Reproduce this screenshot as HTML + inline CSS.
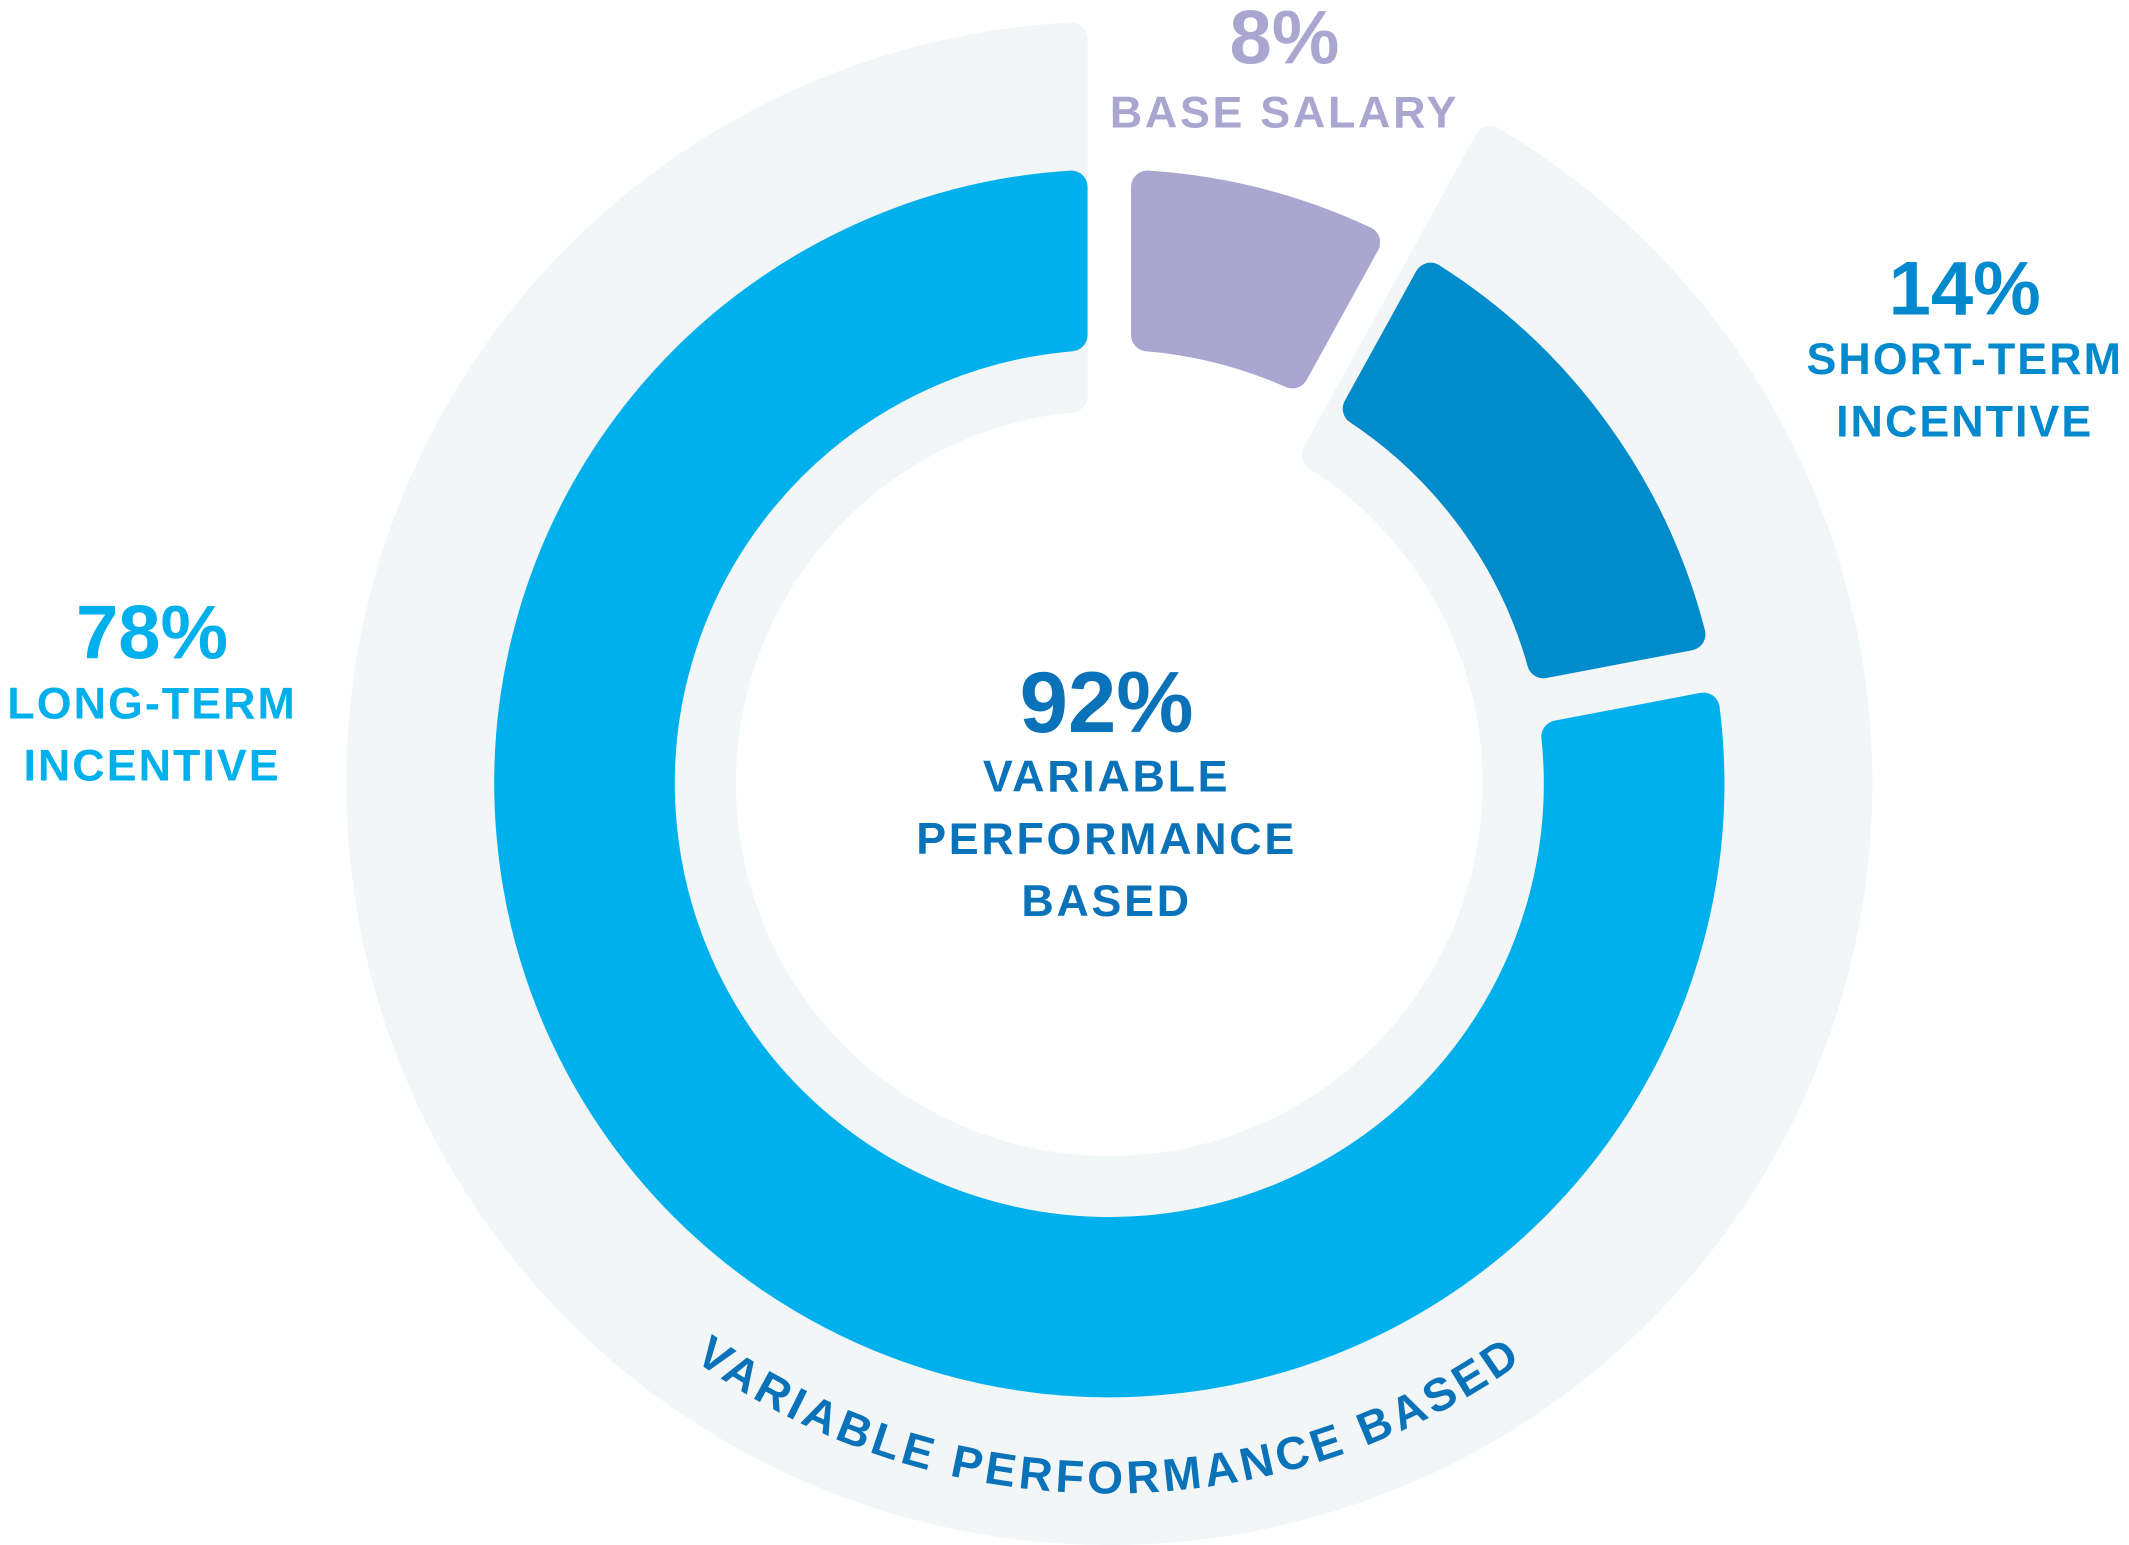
<!DOCTYPE html>
<html><head><meta charset="utf-8"><style>
html,body{margin:0;padding:0;background:#fff;}
svg{display:block;}
text{font-family:"Liberation Sans",sans-serif;font-weight:bold;text-anchor:middle;}
</style></head><body>
<svg id="chart" width="2129" height="1545" viewBox="0 0 1568 1140" preserveAspectRatio="none" xmlns="http://www.w3.org/2000/svg">
<g id="rings"></g>
<defs><path id="arcPath" d="M 0 0"/></defs>
<text font-size="34" fill="#0a72b8" letter-spacing="3"><textPath id="tp" href="#arcPath" startOffset="50%">VARIABLE PERFORMANCE BASED</textPath></text>

<g fill="#a9a7d0">
<text x="946" y="47" font-size="56">8%</text>
<text x="946" y="94" font-size="33" letter-spacing="2">BASE SALARY</text>
</g>
<g fill="#0089cc">
<text x="1447" y="232" font-size="56">14%</text>
<text x="1447" y="276" font-size="33" letter-spacing="1.5">SHORT-TERM</text>
<text x="1447" y="322" font-size="33" letter-spacing="1.5">INCENTIVE</text>
</g>
<g fill="#00b0ec">
<text x="112" y="486" font-size="56">78%</text>
<text x="112" y="530" font-size="33" letter-spacing="1.5">LONG-TERM</text>
<text x="112" y="576" font-size="33" letter-spacing="1.5">INCENTIVE</text>
</g>
<g fill="#0a72b8">
<text x="815" y="540" font-size="64">92%</text>
<text x="815" y="584" font-size="33" letter-spacing="2">VARIABLE</text>
<text x="815" y="630" font-size="33" letter-spacing="2">PERFORMANCE</text>
<text x="815" y="676" font-size="33" letter-spacing="2">BASED</text>
</g>
</svg>
<script>
const categories = ["Base Salary", "Short-Term Incentive", "Long-Term Incentive"];
const values = [8, 14, 78];
const colors = ["#a9a7d0", "#008bcb", "#00b0ec"];
const cx = 817, cy = 578;
const total = values.reduce((a,b)=>a+b,0);
function angleScale(v){ return v/total*360; }
const SW = 24, HALF = SW/2;
function pt(a,r){ const t=a*Math.PI/180; return [cx + r*Math.sin(t), cy - r*Math.cos(t)]; }
function off(d,r){ return Math.asin(d/r)*180/Math.PI; }
function sector(a0,a1,r0,r1,d0,d1){
  const s1=a0+off(d0,r1), e1=a1-off(d1,r1), s0=a0+off(d0,r0), e0=a1-off(d1,r0);
  const large1 = (e1-s1)>180?1:0, large0=(e0-s0)>180?1:0;
  const p1=pt(s1,r1),p2=pt(e1,r1),p3=pt(e0,r0),p4=pt(s0,r0);
  return `M${p1[0]},${p1[1]} A${r1},${r1} 0 ${large1} 1 ${p2[0]},${p2[1]} L${p3[0]},${p3[1]} A${r0},${r0} 0 ${large0} 0 ${p4[0]},${p4[1]} Z`;
}
const g = document.getElementById('rings');
const NS = "http://www.w3.org/2000/svg";
const varStart = angleScale(values[0]);
const bg = document.createElementNS(NS,'path');
bg.setAttribute('d', sector(varStart, 360, 275+HALF, 562-HALF, 6+HALF, 16+HALF));
bg.setAttribute('fill','#f2f6f7');
bg.setAttribute('stroke','#f2f6f7');
bg.setAttribute('stroke-width',SW);
bg.setAttribute('stroke-linejoin','round');


g.appendChild(bg);
let a = 0;
values.forEach((v,i)=>{
  const a1 = a + angleScale(v);
  const p = document.createElementNS(NS,'path');
  p.setAttribute('d', sector(a, a1, 320+HALF, 453-HALF, 16+HALF, 16+HALF));
  p.setAttribute('fill', colors[i]);
  p.setAttribute('stroke', colors[i]);
  p.setAttribute('stroke-width', SW);
  p.setAttribute('stroke-linejoin', 'round');
  
  
  g.appendChild(p);
  a = a1;
});
const rT = 524;
const s = pt(223, rT), e = pt(137, rT);
document.getElementById('arcPath').setAttribute('d', `M${s[0]},${s[1]} A${rT},${rT} 0 0 0 ${e[0]},${e[1]}`);
</script>
</body></html>
